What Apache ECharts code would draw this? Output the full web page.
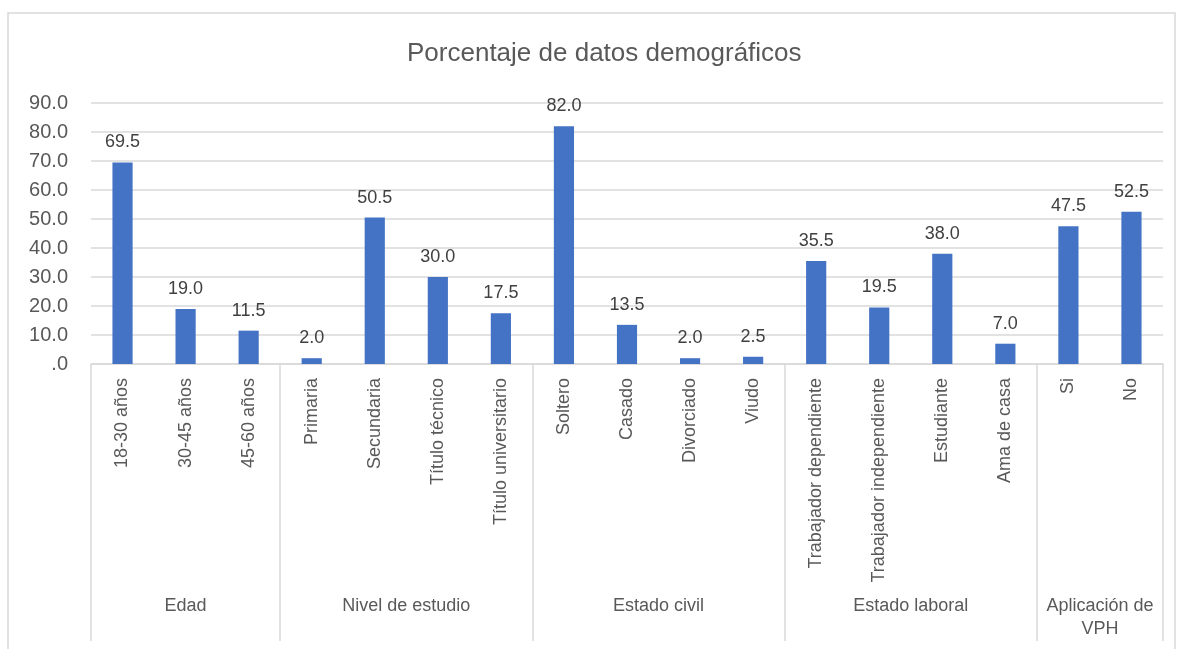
<!DOCTYPE html>
<html>
<head>
<meta charset="utf-8">
<script src="https://cdn.jsdelivr.net/npm/echarts@6/dist/echarts.min.js"></script>
<style>
  html, body { margin: 0; padding: 0; background: #fff; }
  #chart { width: 1180px; height: 649px; }
</style>
</head>
<body>
<div id="chart"></div>
<script>
const categories = [
  '18-30 años', '30-45 años', '45-60 años',
  'Primaria', 'Secundaria', 'Título técnico', 'Título universitario',
  'Soltero', 'Casado', 'Divorciado', 'Viudo',
  'Trabajador dependiente', 'Trabajador independiente', 'Estudiante', 'Ama de casa',
  'Si', 'No'
]
const values = [69.5, 19.0, 11.5, 2.0, 50.5, 30.0, 17.5, 82.0, 13.5, 2.0, 2.5, 35.5, 19.5, 38.0, 7.0, 47.5, 52.5]
const groups = ['Edad', 'Nivel de estudio', 'Estado civil', 'Estado laboral', 'Aplicación de\nVPH']
const groupSizes = [3, 4, 4, 4, 2]
const yTicks = [0, 10, 20, 30, 40, 50, 60, 70, 80, 90]

const font = '"Liberation Sans Narrow", "Liberation Sans", Arial, sans-serif'
const gray = '#d9d9d9'

// half-category slots for the group axis: boundaries and centers
const slots = new Array(categories.length * 2 + 1).fill('')
const boundaries = [0]
let start = 0
groupSizes.forEach((n, i) => {
  slots[start * 2 + n] = groups[i]
  start += n
  boundaries.push(start * 2)
})

const chart = echarts.init(document.getElementById('chart'))

const option = {
  backgroundColor: '#fff',
  textStyle: { fontFamily: font },
  graphic: [{
    type: 'rect',
    shape: { x: 8, y: 13, width: 1167, height: 700 },
    style: { fill: 'none', stroke: gray, lineWidth: 1.5 },
    silent: true
  }],
  title: {
    text: 'Porcentaje de datos demográficos',
    left: 402,
    top: 36,
    textStyle: { fontFamily: font, fontSize: 26, fontWeight: 'normal', color: '#595959' }
  },
  grid: { left: 91, right: 17, top: 103, bottom: 285 },
  xAxis: [
    {
      type: 'category',
      data: categories,
      axisLine: { lineStyle: { color: gray, width: 1.5 } },
      axisTick: { show: false },
      axisLabel: {
        rotate: 90,
        interval: 0,
        margin: 14,
        fontSize: 18,
        color: '#595959',
        fontFamily: font
      }
    },
    {
      type: 'category',
      position: 'bottom',
      data: slots,
      boundaryGap: false,
      axisLine: { show: false },
      axisTick: {
        show: true,
        length: 277,
        interval: (i) => boundaries.includes(i),
        lineStyle: { color: gray, width: 1.5 }
      },
      axisLabel: {
        interval: (i, v) => v !== '',
        margin: 231,
        fontSize: 18,
        lineHeight: 23,
        color: '#595959',
        fontFamily: font
      }
    }
  ],
  yAxis: {
    type: 'value',
    min: yTicks[0],
    max: yTicks[yTicks.length - 1],
    interval: 10,
    axisLine: { show: false },
    axisTick: { show: false },
    splitLine: { lineStyle: { color: gray, width: 1.5 } },
    axisLabel: {
      margin: 23,
      fontSize: 20,
      color: '#595959',
      fontFamily: font,
      formatter: (v) => v === 0 ? '.0' : v.toFixed(1)
    }
  },
  series: [{
    type: 'bar',
    data: values,
    barWidth: '32%',
    itemStyle: { color: '#4472C4' },
    label: {
      show: true,
      position: 'top',
      distance: 11,
      fontSize: 18,
      color: '#404040',
      fontFamily: font,
      formatter: (p) => p.value.toFixed(1)
    }
  }]
}

chart.setOption(option)
</script>
</body>
</html>
